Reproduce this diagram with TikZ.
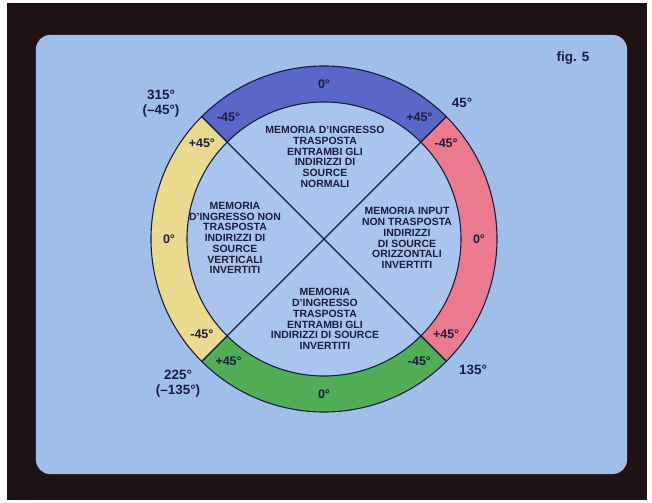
\documentclass[tikz,border=0pt]{standalone}
\usepackage{fontspec}
\setmainfont{Liberation Sans}
\usetikzlibrary{positioning}
\definecolor{frame}{HTML}{1E1214}
\definecolor{scr}{HTML}{A0BEEA}
\definecolor{disc}{HTML}{A9C5EE}
\definecolor{ink}{HTML}{1C1C40}
\definecolor{rblue}{HTML}{5A66C8}
\definecolor{rred}{HTML}{EB7A8E}
\definecolor{rgreen}{HTML}{52AE56}
\definecolor{ryellow}{HTML}{E9DA8E}

\begin{document}
\begin{tikzpicture}[
  x=1bp, y=1bp,
  txt/.style={font=\fontsize{10.5}{10.8}\selectfont\bfseries, text=ink, align=center, inner sep=0pt},
  deg/.style={font=\fontsize{12.5}{12.5}\selectfont\bfseries, text=ink, inner sep=0pt},
  outl/.style={font=\fontsize{13.5}{15}\selectfont\bfseries, text=ink, align=center, inner sep=0pt},
  sep/.style={draw=ink, line width=1.1bp}
]
\useasboundingbox (-324,-264) rectangle (328,239);
% screen
\fill[white] (-324,-264) rectangle (328,239);
\fill[frame] (-317,-261) rectangle (323,236);
\fill[scr, rounded corners=14bp] (-288,-235) rectangle (303,204);
% disc
\coordinate (c) at (0,0);
\fill[disc] (c) circle[radius=137];
\foreach \a in {45,135,225,315} { \coordinate (i\a) at (\a:137); }
% ring quadrants with their labels
\foreach \m/\col in {90/rblue,0/rred,-90/rgreen,180/ryellow} {
  \draw[sep, fill=\col] (\m-45:173) arc[start angle=\m-45, end angle=\m+45, radius=173]
    -- (\m+45:137) arc[start angle=\m+45, end angle=\m-45, radius=137] -- cycle;
  \node[deg] (z\m) at (\m:155) {0°};
  \node[deg] (m\m) at (\m+38:155) {-45°};
  \node[deg] (p\m) at (\m-38:155) {+45°};
}
\draw[sep] (i45) -- (i225);
\draw[sep] (i135) -- (i315);
% memory modes
\node[txt] (memtop) at (1,82) {MEMORIA D'INGRESSO\\TRASPOSTA\\ENTRAMBI GLI\\INDIRIZZI DI\\SOURCE\\NORMALI};
\node[txt] (memright) at (83,1) {MEMORIA INPUT\\NON TRASPOSTA\\INDIRIZZI\\DI SOURCE\\ORIZZONTALI\\INVERTITI};
\node[txt] (memleft) at (-89,1) {MEMORIA\\D'INGRESSO NON\\TRASPOSTA\\INDIRIZZI DI\\SOURCE\\VERTICALI\\INVERTITI};
\node[txt] (membot) at (1,-80) {MEMORIA\\D'INGRESSO\\TRASPOSTA\\ENTRAMBI GLI\\INDIRIZZI DI SOURCE\\INVERTITI};
% angles outside
\node[outl] (a315) at (-163,135) {315°\\(--45°)};
\node[outl] (a45) at (138,136) {45°};
\node[outl] (a135) at (149,-131) {135°};
\node[outl] (a225) at (-146,-145) {225°\\(--135°)};
\node[outl] (fig) at (249,181) {fig. 5};
\end{tikzpicture}
\end{document}
